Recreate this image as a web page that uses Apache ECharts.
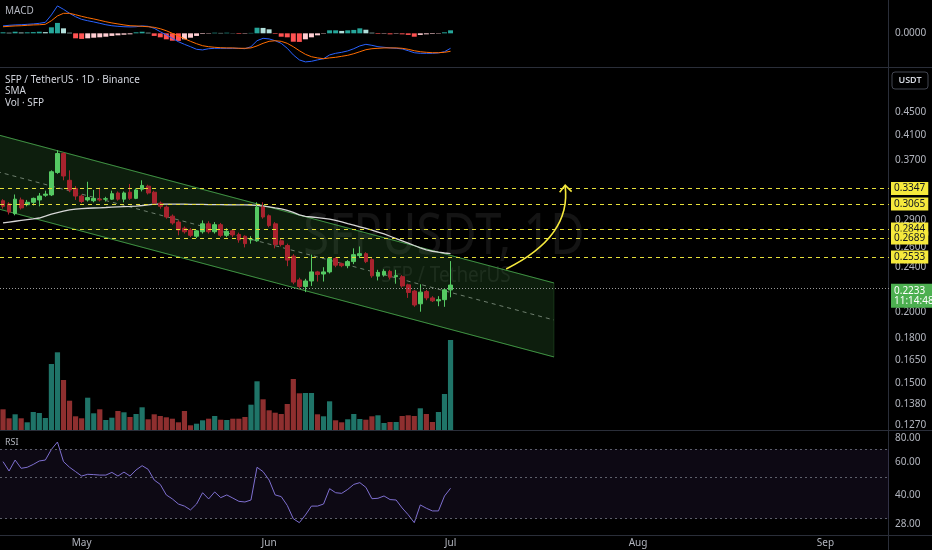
<!DOCTYPE html>
<html><head><meta charset="utf-8">
<script src="https://cdn.jsdelivr.net/npm/echarts@6/dist/echarts.min.js"></script>
<style>html,body{margin:0;padding:0;background:#000;}#c{width:932px;height:550px;}</style>
</head><body><div id="c"></div>
<script>
// ---- categories (daily) ----
const startDay = Date.UTC(2024, 3, 18);
const dayCount = 147;
const categories = Array.from({length: dayCount}, (_, i) => new Date(startDay + i * 86400000).toISOString().slice(0, 10));
const monthNames = ['Jan','Feb','Mar','Apr','May','Jun','Jul','Aug','Sep','Oct','Nov','Dec'];

// ---- price candles [open, close, low, high] ----
const ohlc = [
[0.314,0.307,0.304,0.316],[0.310,0.300,0.297,0.312],[0.298,0.316,0.296,0.322],[0.315,0.305,0.303,0.318],
[0.309,0.312,0.307,0.315],[0.312,0.317,0.308,0.318],[0.315,0.320,0.307,0.324],[0.321,0.3225,0.319,0.327],
[0.3215,0.353,0.320,0.355],[0.352,0.380,0.350,0.385],[0.380,0.347,0.341,0.382],[0.341,0.328,0.325,0.355],
[0.330,0.320,0.315,0.333],[0.320,0.313,0.311,0.322],[0.315,0.318,0.313,0.339],[0.314,0.317,0.312,0.328],
[0.316,0.315,0.313,0.331],[0.316,0.3165,0.313,0.319],[0.316,0.323,0.315,0.327],[0.324,0.316,0.314,0.326],
[0.316,0.324,0.312,0.326],[0.325,0.317,0.315,0.336],[0.317,0.328,0.316,0.330],[0.329,0.334,0.326,0.341],
[0.333,0.324,0.322,0.335],[0.325,0.311,0.309,0.327],[0.311,0.307,0.304,0.313],[0.306,0.294,0.292,0.308],
[0.295,0.287,0.285,0.297],[0.288,0.279,0.273,0.290],[0.281,0.277,0.275,0.283],[0.279,0.273,0.271,0.281],
[0.272,0.278,0.270,0.279],[0.277,0.286,0.275,0.290],[0.286,0.277,0.275,0.289],[0.277,0.285,0.275,0.288],
[0.285,0.273,0.271,0.287],[0.273,0.2775,0.271,0.281],[0.278,0.2735,0.271,0.280],[0.274,0.268,0.265,0.276],
[0.272,0.264,0.260,0.273],[0.268,0.269,0.264,0.272],[0.267,0.306,0.266,0.312],[0.306,0.294,0.292,0.312],
[0.2955,0.284,0.282,0.297],[0.286,0.263,0.259,0.288],[0.267,0.263,0.261,0.269],[0.262,0.247,0.241,0.264],
[0.251,0.226,0.224,0.253],[0.228,0.222,0.220,0.230],[0.222,0.227,0.217,0.229],[0.227,0.2355,0.2225,0.2525],
[0.2355,0.233,0.2265,0.2365],[0.2335,0.2355,0.2265,0.240],[0.2355,0.2485,0.234,0.2495],[0.2485,0.242,0.240,0.250],
[0.2435,0.2415,0.240,0.2445],[0.2415,0.2455,0.239,0.247],[0.2455,0.2525,0.243,0.259],[0.2515,0.2535,0.249,0.261],
[0.2535,0.2455,0.244,0.255],[0.2475,0.2318,0.230,0.249],[0.2315,0.235,0.2275,0.2375],[0.2325,0.236,0.231,0.238],
[0.236,0.2305,0.2285,0.2375],[0.231,0.232,0.2245,0.2375],[0.231,0.2225,0.221,0.2325],[0.2235,0.2167,0.212,0.2245],
[0.218,0.206,0.2045,0.219],[0.207,0.217,0.2005,0.224],[0.2175,0.212,0.210,0.219],[0.212,0.2095,0.2085,0.2135],
[0.2095,0.2105,0.205,0.2135],[0.2105,0.219,0.2045,0.220],[0.219,0.2233,0.2125,0.246]
];

// ---- volume (K SFP) ----
const volume = [20.7,11.7,15.7,11.7,7.7,18,17,12,66,77.7,50,29.3,13.7,11.7,32.3,16.7,20.7,10,12.3,19,
17.7,13,16,22.7,10.7,15.7,14,12.7,11.3,7.7,19,4.7,6.3,9.7,11.3,14,10.3,10,11.3,11.3,
13,25.3,48.7,30.7,19.7,17.3,16,26,51,36.7,37,37,15.7,13.7,28.7,9.7,7.7,10.7,16,11,
10.3,13.7,14.7,7,8,8,14,14.7,14,21.7,16,8,18,36,90];

// ---- SMA ----
const sma = [0.287,0.288,0.289,0.290,0.291,0.2918,0.2928,0.295,0.2973,0.2993,0.301,0.3026,0.3035,0.3042,0.3046,
0.3049,0.3051,0.3055,0.3060,0.3063,0.3066,0.3069,0.3073,0.3080,0.3088,0.3096,0.3098,0.3098,0.3097,0.3097,
0.3096,0.3095,0.3094,0.3093,0.3092,0.3091,0.3090,0.3089,0.3088,0.3087,0.3087,0.3086,0.3082,0.3073,0.3064,
0.3050,0.3038,0.3020,0.2995,0.2965,0.2948,0.2940,0.2932,0.2924,0.2916,0.2900,0.2882,0.2863,0.2845,0.2826,
0.2807,0.2787,0.2766,0.2745,0.2720,0.2695,0.2670,0.2645,0.2620,0.2596,0.2575,0.2560,0.2550,0.2542,0.2535];

// ---- RSI ----
const rsi = [60.2,53.7,61.4,55.5,56.2,58.2,60.7,61.4,69.9,76.5,60.2,56.2,53.3,50.5,51.6,51.4,51.1,51.1,52.8,50.5,
53.0,50.5,54.4,57.3,54.8,48.1,45.6,40.1,38.2,35.9,35.0,33.4,35.9,41.2,38.2,41.6,38.8,40.1,38.6,37.1,
36.8,37.7,56.2,53.3,48.1,40.1,39.3,35.3,30.0,28.6,31.4,35.0,35.0,35.9,43.3,41.2,40.9,42.9,45.6,46.6,
44.0,38.3,38.5,39.6,37.9,37.7,34.2,31.5,28.6,35.5,34.1,33.0,33.0,39.6,43.5];
const rsiLevels = [70, 50, 30];
const rsiTicks = [28, 40, 60, 80];

// ---- MACD ----
const macdLine = [0.0037,0.0040,0.0042,0.0043,0.0045,0.0047,0.0050,0.0055,0.0092,0.0137,0.0120,0.0100,0.0083,0.0070,0.0063,
0.0057,0.0050,0.0043,0.0038,0.0035,0.0033,0.0032,0.0033,0.0037,0.0035,0.0025,0.0008,-0.0008,-0.0025,-0.0042,
-0.0055,-0.0067,-0.0080,-0.0083,-0.0077,-0.0075,-0.0075,-0.0075,-0.0075,-0.0075,-0.0077,-0.0067,-0.0037,-0.0025,-0.0028,
-0.0037,-0.0050,-0.0075,-0.0108,-0.0133,-0.0143,-0.0140,-0.0133,-0.0127,-0.0108,-0.0100,-0.0095,-0.0088,-0.0077,-0.0063,
-0.0055,-0.0060,-0.0067,-0.0070,-0.0073,-0.0075,-0.0078,-0.0087,-0.0097,-0.0100,-0.0100,-0.0100,-0.0098,-0.0092,-0.0075];
const signalLine = [0.0033,0.0035,0.0037,0.0038,0.0040,0.0042,0.0043,0.0045,0.0063,0.0087,0.0100,0.0100,0.0093,0.0085,0.0078,
0.0072,0.0065,0.0058,0.0052,0.0047,0.0042,0.0038,0.0037,0.0035,0.0033,0.0030,0.0023,0.0013,0.0000,-0.0013,
-0.0027,-0.0040,-0.0052,-0.0062,-0.0067,-0.0070,-0.0072,-0.0073,-0.0073,-0.0075,-0.0075,-0.0073,-0.0063,-0.0050,-0.0040,
-0.0037,-0.0040,-0.0050,-0.0067,-0.0087,-0.0105,-0.0117,-0.0123,-0.0127,-0.0123,-0.0120,-0.0115,-0.0110,-0.0102,-0.0092,
-0.0082,-0.0077,-0.0075,-0.0073,-0.0073,-0.0073,-0.0075,-0.0080,-0.0087,-0.0092,-0.0095,-0.0097,-0.0097,-0.0095,-0.0090];
const macdHist = [0.0005,0.0003,0.0008,0.0004,0.0005,0.0006,0.0008,0.0006,0.0030,0.0052,0.0025,0.0003,-0.0025,-0.0028,-0.0025,
-0.0022,-0.0020,-0.0017,-0.0013,-0.0010,-0.0007,-0.0005,0.0005,0.0008,0.0003,-0.0013,-0.0020,-0.0030,-0.0037,-0.0038,
-0.0030,-0.0022,-0.0013,-0.0003,-0.0002,0.0003,0.0002,0.0003,0.0001,-0.0003,-0.0002,0.0002,0.0028,0.0027,0.0020,
-0.0003,-0.0017,-0.0020,-0.0042,-0.0043,-0.0030,-0.0020,-0.0010,-0.0002,0.0015,0.0015,0.0012,0.0015,0.0017,0.0025,
0.0018,0.0003,-0.0003,-0.0002,-0.0005,-0.0002,-0.0005,-0.0008,-0.0017,-0.0008,-0.0005,-0.0003,-0.0002,0.0005,0.0015];

// ---- price axis ticks & drawings ----
const priceTicks = [0.45, 0.41, 0.37, 0.33, 0.29, 0.26, 0.24, 0.22, 0.20, 0.18, 0.165, 0.15, 0.138, 0.127];
const levels = [0.3347, 0.3065, 0.2844, 0.2689, 0.2533];
const lastPrice = 0.2233;
const countdown = '11:14:48';
const channelUpper = [[-1, 0.4102], [91.1, 0.2252]];
const channelLower = [[-1, 0.3042], [91.1, 0.1670]];
const channelMid = [[-1, 0.3533], [91.1, 0.1939]];
const arrowStart = [83.2, 0.2383];
const arrowCtrl = [94.0, 0.2716];
const arrowEnd = [92.95, 0.333];

const UP = '#55c963', DOWN = '#a8232e';
const VUP = '#1f7468', VDOWN = '#8e2f2f';
const TXT = '#b2b5be';
const FONT = 'Noto Sans';

const chart = echarts.init(document.getElementById('c'), null, {renderer: 'canvas'});
const gridBase = {left: -2.3, right: 43};
const catAxis = (gi, extra) => Object.assign({type: 'category', gridIndex: gi, data: categories, boundaryGap: true,
  axisLine: {show: false}, axisTick: {show: false}, axisLabel: {show: false}, splitLine: {show: false}}, extra || {});

chart.setOption({
  backgroundColor: '#000',
  animation: false,
  textStyle: {fontFamily: FONT},
  grid: [
    Object.assign({top: 0, height: 67}, gridBase),
    Object.assign({top: 68, height: 362}, gridBase),
    Object.assign({top: 330, height: 100}, gridBase),
    Object.assign({top: 431, height: 104}, gridBase)
  ],
  xAxis: [
    catAxis(0), catAxis(1), catAxis(2),
    catAxis(3, {axisLabel: {show: true, color: TXT, fontSize: 10, margin: 3,
      interval: (idx, val) => val.slice(8) === '01',
      formatter: val => monthNames[+val.slice(5, 7) - 1]}}),
    {type: 'value', gridIndex: 1, min: -0.5, max: dayCount - 0.5, show: false}
  ],
  yAxis: [
    {type: 'value', gridIndex: 0, position: 'right', min: -0.01685, max: 0.01667, splitLine: {show: false},
      axisLine: {show: false}, axisTick: {show: false},
      axisLabel: {color: TXT, fontSize: 10, margin: 6, customValues: [0], formatter: v => v.toFixed(4)}},
    {type: 'log', gridIndex: 1, position: 'right', min: 0.1243, max: 0.5369, splitLine: {show: false},
      axisLine: {show: false}, axisTick: {show: false},
      axisLabel: {color: TXT, fontSize: 10, margin: 6, customValues: priceTicks, formatter: v => (+v).toFixed(4)}},
    {type: 'value', gridIndex: 2, min: 0, max: 100, show: false},
    {type: 'log', gridIndex: 3, position: 'right', min: 24.6, max: 87.5, splitLine: {show: false},
      axisLine: {show: false}, axisTick: {show: false},
      axisLabel: {color: TXT, fontSize: 10, margin: 6, customValues: rsiTicks, formatter: v => (+v).toFixed(2)}}
  ],
  graphic: [
    {type: 'text', x: 444, y: 238, scaleX: 0.84, z: 0, silent: true,
      style: {text: 'SFPUSDT, 1D', x: 0, y: 0, align: 'center', verticalAlign: 'middle', font: '56px "Noto Sans"', fill: 'rgba(255,255,255,0.08)'}},
    {type: 'text', x: 446, y: 276, scaleX: 0.9, z: 0, silent: true,
      style: {text: 'SFP / TetherUS', x: 0, y: 0, align: 'center', verticalAlign: 'middle', font: '21px "Noto Sans"', fill: 'rgba(255,255,255,0.08)'}},
    {type: 'line', shape: {x1: 0, y1: 67.5, x2: 932, y2: 67.5}, style: {stroke: '#2a2e39', lineWidth: 1}, silent: true},
    {type: 'line', shape: {x1: 0, y1: 430.5, x2: 932, y2: 430.5}, style: {stroke: '#2a2e39', lineWidth: 1}, silent: true},
    {type: 'line', shape: {x1: 0, y1: 535.5, x2: 932, y2: 535.5}, style: {stroke: '#2a2e39', lineWidth: 1}, silent: true},
    {type: 'line', shape: {x1: 888.5, y1: 0, x2: 888.5, y2: 550}, style: {stroke: '#2a2e39', lineWidth: 1}, silent: true},
    {type: 'rect', shape: {x: 892, y: 72, width: 36, height: 17, r: 3}, style: {fill: '#000', stroke: '#434651', lineWidth: 1}, silent: true},
    {type: 'text', x: 910, y: 80.5, style: {text: 'USDT', align: 'center', verticalAlign: 'middle', font: '600 9px "Noto Sans"', fill: '#d1d4dc'}, silent: true},
    {type: 'text', x: 5, y: 11, style: {text: 'MACD', verticalAlign: 'middle', font: '10px "Noto Sans"', fill: TXT}, silent: true},
    {type: 'text', x: 5, y: 80, style: {text: 'SFP / TetherUS · 1D · Binance', verticalAlign: 'middle', font: '10px "Noto Sans"', fill: '#d1d4dc'}, silent: true},
    {type: 'text', x: 5, y: 91.5, style: {text: 'SMA', verticalAlign: 'middle', font: '10px "Noto Sans"', fill: '#d1d4dc'}, silent: true},
    {type: 'text', x: 5, y: 103, style: {text: 'Vol · SFP', verticalAlign: 'middle', font: '10px "Noto Sans"', fill: '#d1d4dc'}, silent: true},
    {type: 'text', x: 5, y: 442, style: {text: 'RSI', verticalAlign: 'middle', font: '9px "Noto Sans"', fill: TXT}, silent: true}
  ],
  series: [
    // MACD histogram & lines
    {type: 'bar', xAxisIndex: 0, yAxisIndex: 0, data: macdHist, barCategoryGap: '18%', silent: true,
      itemStyle: {color: p => {
        const v = p.value, prev = p.dataIndex > 0 ? macdHist[p.dataIndex - 1] : 0;
        if (v >= 0) return v >= prev ? '#26a69a' : '#b2dfdb';
        return v < prev ? '#ff5252' : '#ffcdd2';
      }}},
    {type: 'line', xAxisIndex: 0, yAxisIndex: 0, data: macdLine, showSymbol: false, silent: true,
      lineStyle: {color: '#2962ff', width: 1}},
    {type: 'line', xAxisIndex: 0, yAxisIndex: 0, data: signalLine, showSymbol: false, silent: true,
      lineStyle: {color: '#ff6d00', width: 1}},
    // channel
    {type: 'custom', xAxisIndex: 4, yAxisIndex: 1, data: [[0, 0.3]], clip: true, silent: true, z: 1,
      renderItem: (params, api) => {
        const u0 = api.coord(channelUpper[0]), u1 = api.coord(channelUpper[1]);
        const l0 = api.coord(channelLower[0]), l1 = api.coord(channelLower[1]);
        const m0 = api.coord(channelMid[0]), m1 = api.coord(channelMid[1]);
        return {type: 'group', children: [
          {type: 'polygon', shape: {points: [u0, u1, l1, l0]},
            style: {fill: 'rgba(76,175,80,0.17)', stroke: 'rgba(76,175,80,0.22)', lineWidth: 1}},
          {type: 'line', shape: {x1: u0[0], y1: u0[1], x2: u1[0], y2: u1[1]},
            style: {stroke: 'rgba(76,175,80,0.75)', lineWidth: 1}},
          {type: 'line', shape: {x1: l0[0], y1: l0[1], x2: l1[0], y2: l1[1]},
            style: {stroke: 'rgba(76,175,80,0.75)', lineWidth: 1}},
          {type: 'line', shape: {x1: m0[0], y1: m0[1], x2: m1[0], y2: m1[1]},
            style: {stroke: 'rgba(190,205,190,0.55)', lineWidth: 1, lineDash: [4, 4]}}
        ]};
      }},
    // volume
    {type: 'bar', xAxisIndex: 2, yAxisIndex: 2, barCategoryGap: '14%', silent: true, z: 2,
      data: volume.map((v, i) => ({value: v, itemStyle: {color: ohlc[i][1] >= ohlc[i][0] ? VUP : VDOWN}}))},
    // SMA + horizontal levels
    {type: 'line', xAxisIndex: 1, yAxisIndex: 1, data: sma, showSymbol: false, silent: true, z: 3,
      lineStyle: {color: '#d6d6d6', width: 1.3},
      markLine: {symbol: 'none', silent: true, animation: false,
        data: levels.map(v => ({yAxis: v,
          lineStyle: {color: '#e6df3a', type: [4, 4], width: 1},
          label: {show: true, position: 'end', distance: 2, formatter: v.toFixed(4),
            backgroundColor: '#f5e93c', color: '#131722', padding: [2, 3, 1, 3], fontSize: 10, fontFamily: FONT}}))}},
    // candles
    {type: 'candlestick', xAxisIndex: 1, yAxisIndex: 1, data: ohlc, barWidth: '70%', silent: true, z: 4,
      itemStyle: {color: UP, color0: DOWN, borderColor: UP, borderColor0: DOWN, borderWidth: 1},
      markLine: {symbol: 'none', silent: true, animation: false,
        data: [{yAxis: lastPrice, lineStyle: {color: '#9a9a9a', type: [1, 2], width: 1},
          label: {show: true, position: 'end', distance: 2, formatter: lastPrice.toFixed(4) + '\n' + countdown,
            verticalAlign: 'top', offset: [0, -5], lineHeight: 10,
            backgroundColor: '#4caf50', color: '#ffffff', padding: [2, 3, 2, 3], fontSize: 10, fontFamily: FONT}}]}},
    // arrow
    {type: 'custom', xAxisIndex: 4, yAxisIndex: 1, data: [[0, 0.3]], clip: false, silent: true, z: 5,
      renderItem: (params, api) => {
        const s = api.coord(arrowStart), c = api.coord(arrowCtrl), e = api.coord(arrowEnd);
        return {type: 'group', children: [
          {type: 'bezierCurve', shape: {x1: s[0], y1: s[1], cpx1: c[0], cpy1: c[1], x2: e[0], y2: e[1]},
            style: {stroke: '#f5e93c', lineWidth: 1.6, fill: null}},
          {type: 'polyline', shape: {points: [[e[0] - 5.5, e[1] + 6], [e[0], e[1] - 1], [e[0] + 6.5, e[1] + 5.5]]},
            style: {stroke: '#f5e93c', lineWidth: 1.6, fill: null}}
        ]};
      }},
    // RSI
    {type: 'line', xAxisIndex: 3, yAxisIndex: 3, data: rsi, showSymbol: false, silent: true,
      lineStyle: {color: '#7e6fd0', width: 1},
      markLine: {symbol: 'none', silent: true, animation: false,
        data: rsiLevels.map(v => ({yAxis: v, lineStyle: {color: '#5d606b', type: [2, 3], width: 1}, label: {show: false}}))},
      markArea: {silent: true, itemStyle: {color: 'rgba(126,87,194,0.1)'},
        data: [[{yAxis: rsiLevels[2]}, {yAxis: rsiLevels[0]}]]}}
  ]
});
</script>
</body></html>
